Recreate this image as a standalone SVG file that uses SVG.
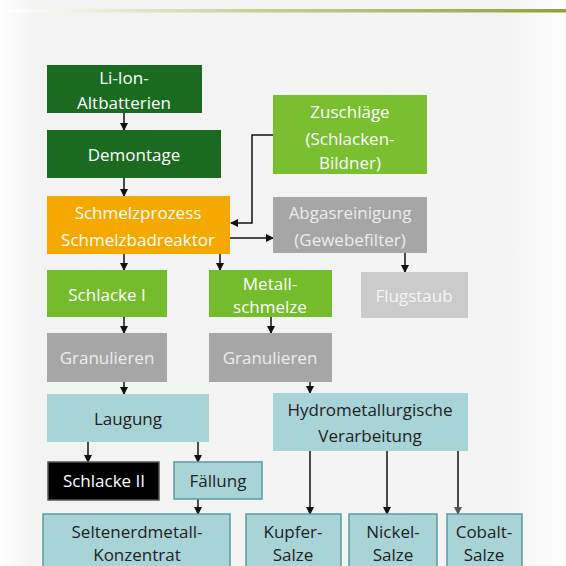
<svg xmlns="http://www.w3.org/2000/svg" width="566" height="566" viewBox="0 0 566 566">
<defs>
<linearGradient id="bg" x1="0" y1="0" x2="1" y2="0">
<stop offset="0" stop-color="#ffffff"/>
<stop offset="0.06" stop-color="#f3f3f3"/>
<stop offset="0.9" stop-color="#f4f4f4"/>
<stop offset="1" stop-color="#fdfdfd"/>
</linearGradient>
<linearGradient id="topline" x1="0" y1="0" x2="1" y2="0">
<stop offset="0" stop-color="#ffffff"/>
<stop offset="0.45" stop-color="#c4d096"/>
<stop offset="1" stop-color="#8da23a"/>
</linearGradient>
<marker id="ah" markerUnits="userSpaceOnUse" markerWidth="8" markerHeight="8" refX="7" refY="4" orient="auto">
<path d="M0,0 L8,4 L0,8 z" fill="#111"/>
</marker>
<marker id="ahg" markerUnits="userSpaceOnUse" markerWidth="8" markerHeight="8" refX="7" refY="4" orient="auto">
<path d="M0,0 L8,4 L0,8 z" fill="#555"/>
</marker>
</defs>
<style>
text{font-family:"Open Sans","Liberation Sans",sans-serif;font-size:17px;text-anchor:middle}
.w{fill:#ffffff}
.lg{fill:#ececec}
.d{fill:#222222}
.dg{fill:#1a6b1f}
.gr{fill:#74bc2b}
.or{fill:#f5a800}
.gy{fill:#a6a6a6}
.lgy{fill:#cbcbcb}
.tl{fill:#a8d4d8}
.tlb{fill:#a8d4d8;stroke:#5a9aa2;stroke-width:1.5}
.blk{fill:#000;stroke:#555;stroke-width:1.5}
.c{fill:none;stroke:#111;stroke-width:1.5}
</style>
<rect x="0" y="0" width="566" height="566" fill="url(#bg)"/>
<rect x="8" y="9" width="558" height="3.5" fill="url(#topline)"/>

<g id="connectors">
<path class="c" d="M124 113 V130" marker-end="url(#ah)"/>
<path class="c" d="M124 178 V196" marker-end="url(#ah)"/>
<path class="c" d="M273 135 H252 V223 H231" marker-end="url(#ah)"/>
<path class="c" d="M230 238 H273" marker-end="url(#ah)"/>
<path class="c" d="M124 254 V270" marker-end="url(#ah)"/>
<path class="c" d="M220 254 V270" marker-end="url(#ah)"/>
<path class="c" d="M405 253 V272" marker-end="url(#ah)"/>
<path class="c" d="M124 317 V333" marker-end="url(#ah)"/>
<path class="c" d="M271 317 V333" marker-end="url(#ah)"/>
<path class="c" d="M124 382 V394" marker-end="url(#ah)"/>
<path class="c" d="M310 382 V393" marker-end="url(#ah)"/>
<path class="c" d="M88 442 V462" marker-end="url(#ah)"/>
<path class="c" d="M198 442 V462" marker-end="url(#ah)"/>
<path class="c" d="M198 499 V514" marker-end="url(#ah)"/>
<path class="c" d="M310 451 V514" stroke-width="2" marker-end="url(#ah)"/>
<path class="c" d="M387 451 V514" marker-end="url(#ah)"/>
<path class="c" d="M458 451 V514" stroke="#666" stroke-width="2" marker-end="url(#ahg)"/>
</g>

<g id="n-li-ion">
<rect class="dg" x="47" y="65" width="155" height="48"/>
<text class="w" x="124" y="84">Li-Ion-</text>
<text class="w" x="124" y="109">Altbatterien</text>
</g>
<g id="n-demontage">
<rect class="dg" x="47" y="130" width="174" height="48"/>
<text class="w" x="134" y="161">Demontage</text>
</g>
<g id="n-zuschlaege">
<rect x="273" y="95" width="154" height="79" fill="#7abf2f"/>
<text class="w" x="350" y="118">Zuschläge</text>
<text class="w" x="350" y="145">(Schlacken-</text>
<text class="w" x="350" y="169">Bildner)</text>
</g>
<g id="n-schmelz">
<rect class="or" x="47" y="196" width="183" height="58"/>
<text class="w" x="138" y="219">Schmelzprozess</text>
<text class="w" x="138" y="246">Schmelzbadreaktor</text>
</g>
<g id="n-abgas">
<rect class="gy" x="273" y="197" width="154" height="56"/>
<text class="lg" x="350" y="219">Abgasreinigung</text>
<text class="lg" x="350" y="246">(Gewebefilter)</text>
</g>
<g id="n-schlacke1">
<rect class="gr" x="47" y="270" width="120" height="47"/>
<text class="w" x="107" y="301">Schlacke I</text>
</g>
<g id="n-metall">
<rect class="gr" x="209" y="270" width="123" height="47"/>
<text class="w" x="270" y="290">Metall-</text>
<text class="w" x="270" y="313">schmelze</text>
</g>
<g id="n-flugstaub">
<rect class="lgy" x="361" y="272" width="107" height="46"/>
<text x="414" y="302" fill="#f4f4f4">Flugstaub</text>
</g>
<g id="n-gran1">
<rect class="gy" x="47" y="333" width="120" height="49"/>
<text class="lg" x="107" y="364">Granulieren</text>
</g>
<g id="n-gran2">
<rect class="gy" x="209" y="333" width="123" height="49"/>
<text class="lg" x="270" y="364">Granulieren</text>
</g>
<g id="n-laugung">
<rect class="tl" x="47" y="394" width="162" height="48"/>
<text class="d" x="128" y="425">Laugung</text>
</g>
<g id="n-hydro">
<rect class="tl" x="273" y="393" width="195" height="58"/>
<text class="d" x="370" y="416">Hydrometallurgische</text>
<text class="d" x="370" y="442">Verarbeitung</text>
</g>
<g id="n-schlacke2">
<rect class="blk" x="48" y="462" width="111" height="38"/>
<text class="w" x="104" y="487">Schlacke II</text>
</g>
<g id="n-faellung">
<rect class="tlb" x="174" y="462" width="88" height="37"/>
<text class="d" x="218" y="487">Fällung</text>
</g>
<g id="n-selten">
<rect class="tlb" x="43" y="514" width="187" height="60"/>
<text class="d" x="137" y="538">Seltenerdmetall-</text>
<text class="d" x="137" y="561">Konzentrat</text>
</g>
<g id="n-kupfer">
<rect class="tlb" x="246" y="514" width="95" height="60"/>
<text class="d" x="293" y="538">Kupfer-</text>
<text class="d" x="293" y="561">Salze</text>
</g>
<g id="n-nickel">
<rect class="tlb" x="349" y="514" width="88" height="60"/>
<text class="d" x="393" y="538">Nickel-</text>
<text class="d" x="393" y="561">Salze</text>
</g>
<g id="n-cobalt">
<rect class="tlb" x="447" y="514" width="75" height="60"/>
<text class="d" x="484" y="538">Cobalt-</text>
<text class="d" x="484" y="561">Salze</text>
</g>
</svg>
